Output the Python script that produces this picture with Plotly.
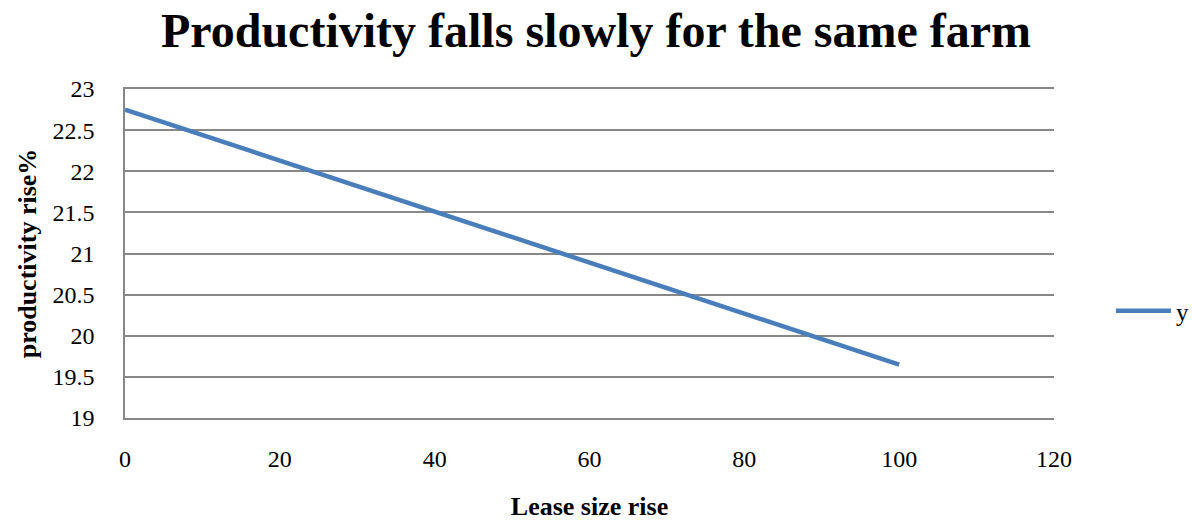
import plotly.graph_objects as go

# Lease size rise vs. productivity rise
lease_size_rise = [0, 20, 40, 60, 80, 100]
productivity_rise = [22.75, 22.13, 21.51, 20.89, 20.27, 19.65]

y_ticks = [19, 19.5, 20, 20.5, 21, 21.5, 22, 22.5, 23]
x_ticks = [0, 20, 40, 60, 80, 100, 120]

SERIF = "Liberation Serif, Times New Roman, serif"
GRID = "#878787"

fig = go.Figure()
fig.add_trace(go.Scatter(
    x=lease_size_rise,
    y=productivity_rise,
    mode="lines",
    name="y",
    line=dict(color="#4A7EBB", width=4.5),
))

fig.update_layout(
    width=1192,
    height=521,
    margin=dict(l=125, r=138, t=89, b=103, autoexpand=False),
    paper_bgcolor="white",
    plot_bgcolor="white",
    font=dict(family=SERIF, color="black", size=26),
    title=dict(
        text="<b>Productivity falls slowly for the same farm</b>",
        font=dict(family=SERIF, size=48, color="black"),
        x=0.5, xanchor="center",
        y=0.942, yanchor="middle",
    ),
    showlegend=True,
    legend=dict(
        xref="container", yref="container",
        x=0.932, xanchor="left",
        y=0.403, yanchor="middle",
        font=dict(family=SERIF, size=25),
        bgcolor="rgba(0,0,0,0)",
        itemwidth=55,
    ),
    xaxis=dict(
        range=[0, 120],
        tickvals=x_ticks,
        showgrid=False,
        zeroline=False,
        showline=True, linecolor=GRID, linewidth=1.5, mirror=True,
        ticks="outside", ticklen=18, tickcolor="rgba(0,0,0,0)",
        tickfont=dict(family=SERIF, size=24),
        automargin=False,
        title=dict(text="<b>Lease size rise</b>", font=dict(family=SERIF, size=26), standoff=31),
    ),
    yaxis=dict(
        range=[19, 23],
        tickvals=y_ticks,
        ticktext=[f"{v:g}" for v in y_ticks],
        showgrid=True, gridcolor=GRID, gridwidth=1.5,
        zeroline=False,
        showline=True, linecolor=GRID, linewidth=1.5,
        ticks="outside", ticklen=24, tickcolor="rgba(0,0,0,0)",
        tickfont=dict(family=SERIF, size=24),
        automargin=False,
        title=dict(text="<b>productivity rise%</b>", font=dict(family=SERIF, size=26), standoff=8),
    ),
)

fig.write_html("out.html")
